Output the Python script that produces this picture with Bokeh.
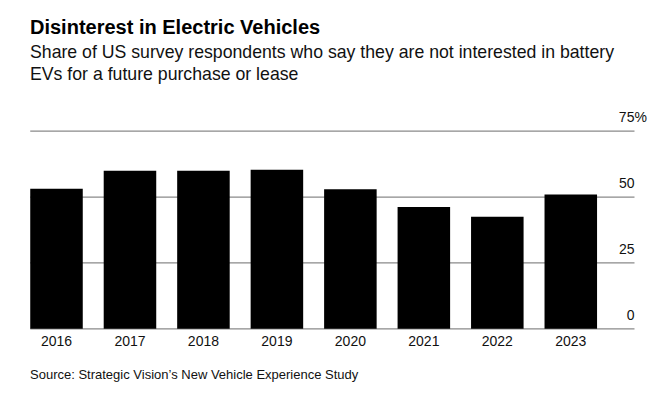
from bokeh.plotting import figure
from bokeh.models import Label, ColumnDataSource
from bokeh.embed import file_html
from bokeh.resources import INLINE
from bokeh.core.properties import value

# ---- data ----
years = ["2016", "2017", "2018", "2019", "2020", "2021", "2022", "2023"]
shares = [53.2, 60.0, 60.0, 60.4, 53.0, 46.2, 42.5, 51.0]
tick_values = [0, 25, 50]
tick_labels = ["0", "25", "50"]
top_tick_value = [75]
top_tick_label = ["75%"]

title_text = "Disinterest in Electric Vehicles"
subtitle_1 = "Share of US survey respondents who say they are not interested in battery"
subtitle_2 = "EVs for a future purchase or lease"
source_text = "Source: Strategic Vision\u2019s New Vehicle Experience Study"

# ---- layout helpers ----
W, H = 660, 391
OFF = 0                # window offset of the figure
PITCH = 73.47          # px per category
X0_PX = 56.0           # window px of first bar centre
Y0_PX = 328.3          # window px (from top) of value 0
PX_PER_UNIT = 2.6347   # px per percentage point
BAR_W = 0.715
GRID_END = len(years) - 1 + 0.867
SHIFT = 6.5            # text baseline correction

x_start = -(X0_PX - OFF) / PITCH
x_end = x_start + W / PITCH
y_start = -(H - (Y0_PX - OFF)) / PX_PER_UNIT
y_end = (Y0_PX - OFF) / PX_PER_UNIT


def fx(px):
    return x_start + (px - OFF) / PITCH


def fy(py):
    return (Y0_PX - (py - SHIFT)) / PX_PER_UNIT


FONT = "Liberation Sans"

p = figure(width=W, height=H, x_range=(x_start, x_end), y_range=(y_start, y_end),
           output_backend="svg", toolbar_location=None, title=None,
           x_axis_location=None, y_axis_location=None, min_border=0)
p.outline_line_color = None
p.background_fill_color = "white"
p.border_fill_color = "white"
p.xgrid.visible = False
p.ygrid.visible = False

xs = list(range(len(years)))
src = ColumnDataSource(dict(x=xs, year=years, share=shares))

# gridlines
all_ticks = tick_values + top_tick_value
p.segment(x0=[-BAR_W / 2] * len(all_ticks), x1=[GRID_END] * len(all_ticks),
          y0=all_ticks, y1=all_ticks, line_color="#8a8a8a", line_width=1.3)

# bars
p.vbar(x="x", top="share", width=BAR_W, bottom=0, source=src,
       fill_color="black", line_color=None)

# x labels
p.text(x="x", y=0, text="year", source=src, text_align="center",
       text_baseline="alphabetic", y_offset=19 - SHIFT, text_font=value(FONT),
       text_font_size="14px", text_color="#111111")

# y labels
p.text(x=[GRID_END] * len(tick_values), y=tick_values, text=tick_labels,
       text_align="right", text_baseline="alphabetic", y_offset=-9 - SHIFT + 1.5,
       text_font=value(FONT), text_font_size="14px", text_color="#111111")
p.text(x=[GRID_END], y=top_tick_value, text=top_tick_label,
       text_align="right", text_baseline="alphabetic", y_offset=-9 - SHIFT + 1.5,
       x_offset=12.4, text_font=value(FONT), text_font_size="14px",
       text_color="#111111")

# titles
p.add_layout(Label(x=fx(29.5), y=fy(33.3), text=title_text, text_font=FONT,
                   text_font_size="20px", text_font_style="bold",
                   text_color="black", text_baseline="alphabetic"))
p.add_layout(Label(x=fx(29.5), y=fy(58.3), text=subtitle_1, text_font=FONT,
                   text_font_size="17.7px", text_color="#111111",
                   text_baseline="alphabetic"))
p.add_layout(Label(x=fx(29.5), y=fy(80.0), text=subtitle_2, text_font=FONT,
                   text_font_size="17.7px", text_color="#111111",
                   text_baseline="alphabetic"))
p.add_layout(Label(x=fx(29.5), y=fy(380.7), text=source_text, text_font=FONT,
                   text_font_size="13px", text_color="#111111",
                   text_baseline="alphabetic"))

open("out.html", "w").write(file_html(p, INLINE))
